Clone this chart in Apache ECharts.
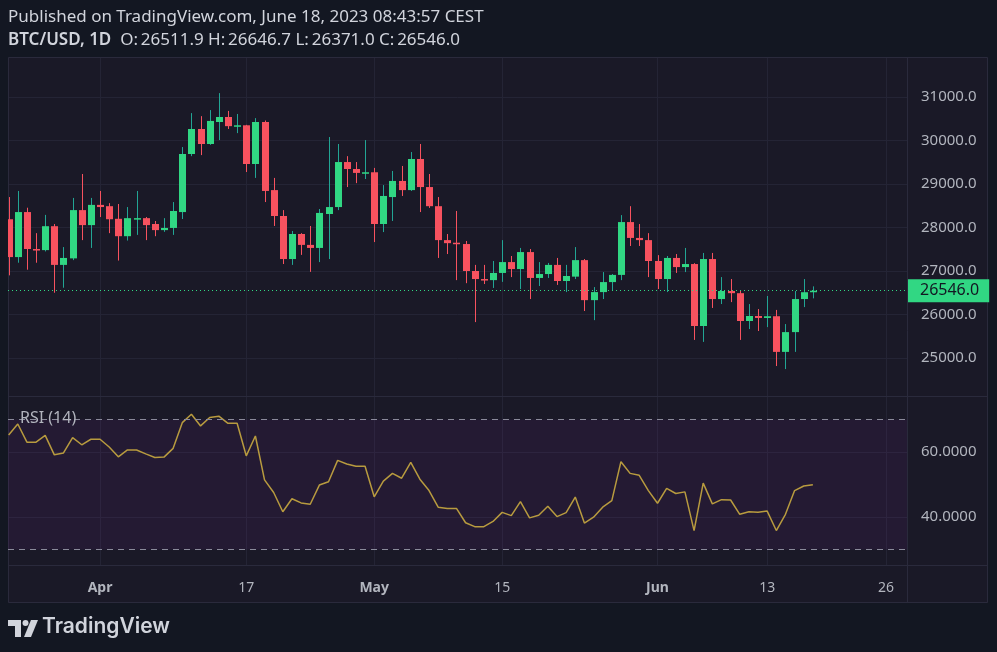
<!DOCTYPE html>
<html>
<head>
<meta charset="utf-8">
<title>BTC/USD 1D</title>
<script src="https://cdn.jsdelivr.net/npm/echarts@6/dist/echarts.min.js"></script>
<style>
  html, body { margin: 0; padding: 0; background: #131722; }
  #chart { width: 997px; height: 652px; }
</style>
</head>
<body>
<div id="chart"></div>
<script>
// daily candles, Mar 22 .. Jun 18 2023 (day 0 = Apr 1)
var dates = [
  '03-22','03-23','03-24','03-25','03-26','03-27','03-28','03-29','03-30','03-31',
  '04-01','04-02','04-03','04-04','04-05','04-06','04-07','04-08','04-09','04-10',
  '04-11','04-12','04-13','04-14','04-15','04-16','04-17','04-18','04-19','04-20',
  '04-21','04-22','04-23','04-24','04-25','04-26','04-27','04-28','04-29','04-30',
  '05-01','05-02','05-03','05-04','05-05','05-06','05-07','05-08','05-09','05-10',
  '05-11','05-12','05-13','05-14','05-15','05-16','05-17','05-18','05-19','05-20',
  '05-21','05-22','05-23','05-24','05-25','05-26','05-27','05-28','05-29','05-30',
  '05-31','06-01','06-02','06-03','06-04','06-05','06-06','06-07','06-08','06-09',
  '06-10','06-11','06-12','06-13','06-14','06-15','06-16','06-17','06-18'
];
var firstDay = -10; // Mar 22 relative to Apr 1

var open = [
  28190,27320,28355,27505,27480,28030,27140,27290,28400,28055,
  28520,28490,28200,27800,28200,28215,28080,27940,27990,28355,
  29690,30265,29920,30425,30540,30330,30350,29460,30425,28860,
  28265,27275,27850,27600,27530,28310,28470,29505,29345,29255,
  29270,28080,28700,29070,28860,29575,28930,28490,27710,27650,
  27620,27000,26815,26790,26955,27205,27045,27435,26840,26930,
  27140,26770,26870,27250,26330,26515,26745,26910,28125,27760,
  27710,27230,26815,27300,27090,27160,25735,27275,26355,26540,
  26490,25850,25965,25920,25960,25140,25595,26355,26511.9
];
var high = [
  28700,28840,28455,27870,28290,28080,27550,28680,29230,28680,
  28840,28560,28540,28470,28840,28240,28150,28215,28585,29850,
  30630,30560,30700,31090,30680,30610,30360,30515,30460,29140,
  28400,27920,27870,28035,28425,30080,29920,29640,29505,30010,
  29370,28975,29300,29415,29735,29920,29230,28700,27850,28380,
  27690,27140,27140,27230,27710,27345,27530,27505,27205,27185,
  27300,27140,27550,27275,26630,26975,26930,28285,28490,28080,
  27870,27365,27345,27390,27530,27180,27415,27415,26860,26815,
  26560,26240,26125,26425,26105,25780,26540,26815,26646.7
];
var low = [
  26900,27190,27030,27190,27450,26500,26615,27250,27710,27530,
  28240,27870,27240,27700,27830,27710,27800,27900,27830,28195,
  29640,29665,29900,30010,30265,30170,29275,29140,28585,28035,
  27160,27140,27370,26980,27205,27275,28400,28930,29020,29115,
  27665,27895,28150,28725,28840,28355,28450,27300,27390,26790,
  26720,25825,26700,26610,26750,26860,26585,26355,26655,26840,
  26680,26515,26815,26080,25870,26355,26560,26790,27575,27575,
  26860,26585,26515,26955,26975,25415,25370,26150,26240,26285,
  25415,25665,25620,25710,24815,24745,25140,26170,26371.0
];
var close = [
  27320,28355,27505,27480,28030,27140,27300,28400,28055,28520,
  28470,28190,27800,28215,28215,28055,27940,27990,28380,29690,
  30265,29920,30450,30540,30330,30350,29460,30425,28840,28265,
  27275,27850,27600,27530,28335,28470,29505,29345,29255,29270,
  28080,28725,29070,28860,29575,28930,28490,27710,27640,27620,
  27000,26815,26790,26955,27205,27045,27435,26840,26930,27140,
  26770,26885,27250,26330,26515,26745,26910,28125,27760,27710,
  27230,26815,27300,27090,27160,25735,27275,26355,26540,26490,
  25850,25965,25920,25960,25140,25595,26355,26512,26546.0
];
var rsi = [
  65.2,68.6,63.0,63.0,65.1,59.1,59.7,64.4,62.2,63.9,
  63.9,61.5,58.5,60.6,60.6,59.4,58.3,58.4,61.1,69.0,
  71.6,68.0,70.6,71.0,68.8,68.8,58.8,64.9,51.4,47.5,
  41.6,45.6,44.3,43.9,49.8,50.8,57.4,56.3,55.6,55.6,
  46.2,51.0,53.4,51.9,56.8,51.6,48.1,43.0,42.6,42.6,
  38.2,37.0,37.0,38.6,41.4,40.4,44.7,39.7,40.5,43.3,
  40.1,41.3,46.1,38.1,39.9,43.0,45.0,57.0,53.4,52.8,
  48.1,44.2,48.8,47.2,47.7,35.8,50.4,44.0,45.3,45.2,
  40.8,41.6,41.4,41.8,35.8,40.8,48.1,49.5,49.9
];

// time axis ticks (days from Apr 1) and their labels
var timeTicks = [0, 16, 30, 44, 61, 73, 86];
var timeLabels = ['Apr', '17', 'May', '15', 'Jun', '13', '26'];
var priceTicks = [25000, 26000, 27000, 28000, 29000, 30000, 31000];
var rsiTicks = [40, 60];
var lastPrice = 26546.0;

var upBody = '#31d783', upWick = '#22a594', downColor = '#f7525f';
var gridColor = '#242435', textColor = '#b2b5be';
var font = 'Noto Sans';

var candleData = [];
var rsiData = [];
for (var i = 0; i < dates.length; i++) {
  candleData.push([firstDay + i, open[i], close[i], low[i], high[i]]);
  rsiData.push([firstDay + i, rsi[i]]);
}

function renderCandle(params, api) {
  var x = api.value(0);
  var o = api.value(1), c = api.value(2), l = api.value(3), h = api.value(4);
  var pO = api.coord([x, o]), pC = api.coord([x, c]);
  var pL = api.coord([x, l]), pH = api.coord([x, h]);
  var up = c >= o;
  var cx = Math.round(pO[0]);
  var top = Math.min(pO[1], pC[1]);
  var bh = Math.max(Math.abs(pO[1] - pC[1]), 1.5);
  return {
    type: 'group',
    children: [{
      type: 'line',
      shape: { x1: cx + 0.5, y1: pH[1], x2: cx + 0.5, y2: pL[1] },
      style: { stroke: up ? upWick : downColor, lineWidth: 1 }
    }, {
      type: 'rect',
      shape: { x: cx - 3, y: top, width: 7, height: bh },
      style: { fill: up ? upBody : downColor }
    }]
  };
}

var chart = echarts.init(document.getElementById('chart'));

var xCommon = {
  type: 'value',
  min: -10.07,
  max: 88.3,
  axisLine: { show: false },
  axisTick: { show: false, customValues: timeTicks },
  splitLine: { show: true, customValues: timeTicks, lineStyle: { color: gridColor, width: 1 } }
};

chart.setOption({
  backgroundColor: '#131722',
  animation: false,
  textStyle: { fontFamily: font },
  grid: [
    { left: 8, top: 58, width: 899, height: 339 },
    { left: 8, top: 397, width: 899, height: 168 }
  ],
  xAxis: [
    Object.assign({}, xCommon, {
      gridIndex: 0,
      axisLabel: { show: false, customValues: timeTicks }
    }),
    Object.assign({}, xCommon, {
      gridIndex: 1,
      axisLabel: {
        show: true,
        customValues: timeTicks,
        margin: 16,
        formatter: function (v) {
          var k = timeTicks.indexOf(Math.round(v));
          var s = k >= 0 ? timeLabels[k] : '';
          return isNaN(+s) ? '{m|' + s + '}' : '{d|' + s + '}';
        },
        rich: {
          m: { color: textColor, fontSize: 14, fontWeight: 'bold', fontFamily: font },
          d: { color: textColor, fontSize: 14, fontFamily: font }
        }
      }
    })
  ],
  yAxis: [{
    gridIndex: 0,
    type: 'value',
    position: 'right',
    min: 24103,
    max: 31897,
    axisLine: { show: false },
    axisTick: { show: false, customValues: priceTicks },
    splitLine: { show: true, customValues: priceTicks, lineStyle: { color: gridColor } },
    axisLabel: {
      customValues: priceTicks,
      margin: 14,
      color: textColor,
      fontSize: 15,
      formatter: function (v) { return v.toFixed(1); }
    }
  }, {
    gridIndex: 1,
    type: 'value',
    position: 'right',
    min: 25.2,
    max: 76.9,
    axisLine: { show: false },
    axisTick: { show: false, customValues: rsiTicks },
    splitLine: { show: true, customValues: rsiTicks, lineStyle: { color: gridColor } },
    axisLabel: {
      customValues: rsiTicks,
      margin: 14,
      color: textColor,
      fontSize: 15,
      formatter: function (v) { return v.toFixed(4); }
    }
  }],
  series: [{
    name: 'BTC/USD',
    type: 'custom',
    xAxisIndex: 0,
    yAxisIndex: 0,
    clip: true,
    renderItem: renderCandle,
    encode: { x: 0, y: [1, 2, 3, 4] },
    data: candleData,
    markLine: {
      silent: true,
      symbol: 'none',
      lineStyle: { color: upBody, type: [1, 3], width: 1 },
      label: {
        position: 'end',
        distance: 1,
        formatter: function (p) { return p.value.toFixed(1); },
        backgroundColor: upBody,
        color: '#131722',
        fontSize: 16,
        fontFamily: font,
        padding: [4, 10, 3, 12]
      },
      data: [{ yAxis: lastPrice }]
    }
  }, {
    name: 'RSI (14)',
    type: 'line',
    xAxisIndex: 1,
    yAxisIndex: 1,
    data: rsiData,
    showSymbol: false,
    lineStyle: { color: '#b89b3f', width: 1.5 },
    markArea: {
      silent: true,
      itemStyle: { color: 'rgba(126, 40, 160, 0.10)' },
      data: [[{ yAxis: 30 }, { yAxis: 70 }]]
    },
    markLine: {
      silent: true,
      symbol: 'none',
      label: { show: false },
      lineStyle: { color: '#8a8a9a', type: [6, 5], width: 1 },
      data: [{ yAxis: 70 }, { yAxis: 30 }]
    }
  }],
  graphic: [
    { type: 'rect', z: -10, shape: { x: 8, y: 58, width: 980, height: 545 },
      style: { fill: '#1a1927' } },
    { type: 'rect', z: 1, silent: true, shape: { x: 8.5, y: 57.5, width: 979, height: 545 },
      style: { fill: 'none', stroke: '#2a2a3c', lineWidth: 1 } },
    { type: 'line', z: 1, shape: { x1: 907.5, y1: 58, x2: 907.5, y2: 603 },
      style: { stroke: '#2a2a3c', lineWidth: 1 } },
    { type: 'line', z: 1, shape: { x1: 8, y1: 396.5, x2: 988, y2: 396.5 },
      style: { stroke: '#2a2a3c', lineWidth: 1 } },
    { type: 'line', z: 1, shape: { x1: 8, y1: 565.5, x2: 988, y2: 565.5 },
      style: { stroke: '#2a2a3c', lineWidth: 1 } },
    { type: 'text', left: 8, top: 9,
      style: { text: 'Published on TradingView.com, June 18, 2023 08:43:57 CEST',
               fill: '#d1d4dc', font: '17px "Noto Sans"' } },
    { type: 'text', left: 8, top: 32,
      style: {
        text: '{b|BTC/USD, 1D}  O:\u200926511.9 H:\u200926646.7 L:\u200926371.0 C:\u200926546.0',
        fill: '#d1d4dc', font: '17px "Noto Sans"',
        rich: { b: { fill: '#d1d4dc', font: '600 17px "Noto Sans"' } }
      } },
    { type: 'text', left: 20, top: 410, z: 10,
      style: { text: 'RSI (14)', fill: textColor, font: '16px "Noto Sans"' } },
    // TradingView logo
    { type: 'rect', shape: { x: 8, y: 620, width: 13, height: 6 }, style: { fill: '#d1d4dc' } },
    { type: 'rect', shape: { x: 15, y: 620, width: 6, height: 17 }, style: { fill: '#d1d4dc' } },
    { type: 'circle', shape: { cx: 25.5, cy: 623, r: 3 }, style: { fill: '#d1d4dc' } },
    { type: 'polygon', shape: { points: [[31, 620], [38, 620], [31, 637], [24, 637]] },
      style: { fill: '#d1d4dc' } },
    { type: 'text', left: 42, top: 616,
      style: { text: 'TradingView', fill: '#d1d4dc', font: '600 21px Inter' } }
  ]
});
</script>
</body>
</html>
